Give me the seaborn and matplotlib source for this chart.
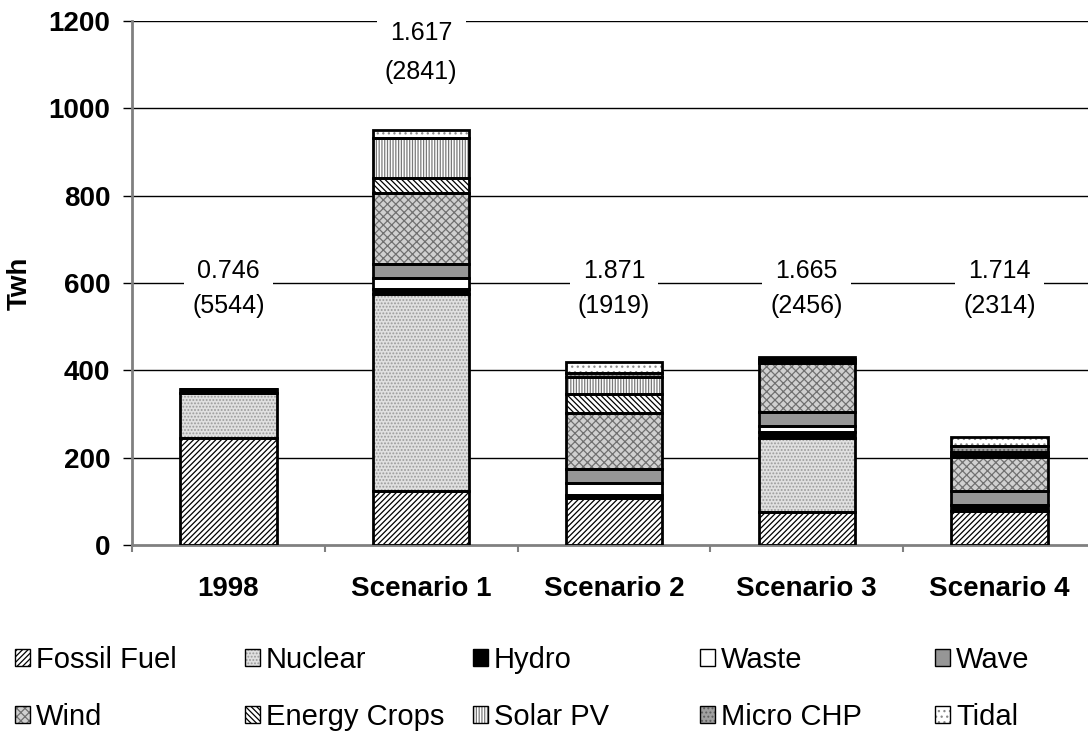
import matplotlib
matplotlib.use("Agg")
import matplotlib.pyplot as plt
from matplotlib.patches import Patch
from matplotlib.legend_handler import HandlerTuple
import pandas as pd
import seaborn as sns

categories = ["1998", "Scenario 1", "Scenario 2", "Scenario 3", "Scenario 4"]

fossil_fuel = [245, 123, 108, 76, 78]
nuclear = [102, 452, 0, 168, 0]
hydro = [10, 11, 7, 14, 13]
waste = [0, 26, 28, 15, 0]
wave = [0, 32, 31, 32, 33]
wind = [0, 161, 128, 112, 77]
energy_crops = [0, 36, 43, 3, 5]
solar_pv = [0, 92, 40, 4, 8]
micro_chp = [0, 0, 8, 3, 12]
tidal = [0, 17, 25, 3, 21]

ratio_labels = ["0.746", "1.617", "1.871", "1.665", "1.714"]
count_labels = ["(5544)", "(2841)", "(1919)", "(2456)", "(2314)"]
label_y = [588, 1127, 588, 588, 588]

sources = ["Fossil Fuel", "Nuclear", "Hydro", "Waste", "Wave",
           "Wind", "Energy Crops", "Solar PV", "Micro CHP", "Tidal"]
values = [fossil_fuel, nuclear, hydro, waste, wave,
          wind, energy_crops, solar_pv, micro_chp, tidal]

# (facecolor, hatch, hatch colour)
styles = {
    "Fossil Fuel": ("white", "//////", "black"),
    "Nuclear": ("#e0e0e0", ".....", "#9a9a9a"),
    "Hydro": ("black", None, "black"),
    "Waste": ("white", None, "black"),
    "Wave": ("#969696", None, "#969696"),
    "Wind": ("#d0d0d0", "xxxx", "#707070"),
    "Energy Crops": ("white", "\\\\\\\\\\\\", "black"),
    "Solar PV": ("white", "||||||", "#7a7a7a"),
    "Micro CHP": ("#a0a0a0", "....", "#606060"),
    "Tidal": ("white", "...", "#8a8a8a"),
}

sns.set_theme(style="white", rc={"text.color": "black", "axes.labelcolor": "black",
                                 "xtick.color": "black", "ytick.color": "black"})
plt.rcParams["font.family"] = ["Liberation Sans", "DejaVu Sans"]
plt.rcParams["hatch.linewidth"] = 0.9

fig = plt.figure(figsize=(10.88, 7.33), dpi=100)
ax = fig.add_axes([132 / 1088, 1 - 545 / 733, 964 / 1088, 524 / 733])

for y in range(200, 1400, 200):
    ax.axhline(y, color="black", lw=1, zorder=0)

bottom = [0] * len(categories)
for name, vals in zip(sources, values):
    df = pd.DataFrame({"cat": categories, "val": vals})
    face, hatch, hcol = styles[name]
    sns.barplot(data=df, x="cat", y="val", ax=ax, bottom=bottom, color=face,
                saturation=1, width=0.5, errorbar=None, hatch=hatch,
                edgecolor=hcol, linewidth=0, zorder=2)
    sns.barplot(data=df, x="cat", y="val", ax=ax, bottom=bottom, color="black",
                fill=False, width=0.5, errorbar=None, edgecolor="black",
                linewidth=2, zorder=3)
    bottom = [b + v for b, v in zip(bottom, vals)]

for i, cat in enumerate(categories):
    ax.text(i, label_y[i], f"{ratio_labels[i]}\n{count_labels[i]}",
            ha="center", va="center", fontsize=18, color="black",
            linespacing=1.6 if i != 1 else 1.8,
            bbox=dict(facecolor="white", edgecolor="none", pad=6), zorder=4)

ax.set_xlim(-0.5, 4.5)
ax.set_ylim(0, 1200)
ax.set_yticks(range(0, 1400, 200))
ax.set_xticks(range(len(categories)))
ax.set_xticklabels(categories, fontsize=20, fontweight="bold")
ax.set_xticks([i + 0.5 for i in range(-1, 5)], minor=True)
ax.tick_params(axis="x", which="major", length=0, pad=22)
ax.tick_params(axis="x", which="minor", length=5, width=1.5, color="#808080", bottom=True)
ax.tick_params(axis="y", length=6.5, width=1, color="black", left=True, pad=9)
for lab in ax.get_yticklabels():
    lab.set_fontsize(20)
    lab.set_fontweight("bold")
ax.set_xlabel("")
ax.set_ylabel("Twh", fontsize=20, fontweight="bold")
ax.yaxis.set_label_coords(-0.103, 0.5)

sns.despine(ax=ax, top=True, right=True)
for side in ["left", "bottom"]:
    ax.spines[side].set_color("#808080")
    ax.spines[side].set_linewidth(2)

# legend: two rows of five, columns placed at fixed positions
col_x = [15, 245, 473, 700, 935]
for c in range(5):
    hs, ls = [], []
    for name in (sources[c], sources[c + 5]):
        face, hatch, hcol = styles[name]
        fill = Patch(facecolor=face, hatch=hatch, edgecolor=hcol, linewidth=0)
        edge = Patch(fill=False, edgecolor="black", linewidth=1)
        hs.append((fill, edge))
        ls.append(name)
    fig.legend(hs, ls, loc="upper left", bbox_to_anchor=(col_x[c] / 1088, 1 - 646 / 733),
               frameon=False, fontsize=21, handlelength=0.52, handleheight=0.52,
               handletextpad=0.2, labelspacing=0.98, borderpad=0, borderaxespad=0,
               labelcolor="black", handler_map={tuple: HandlerTuple(ndivide=1)})

fig.savefig("out.png", dpi=100)
